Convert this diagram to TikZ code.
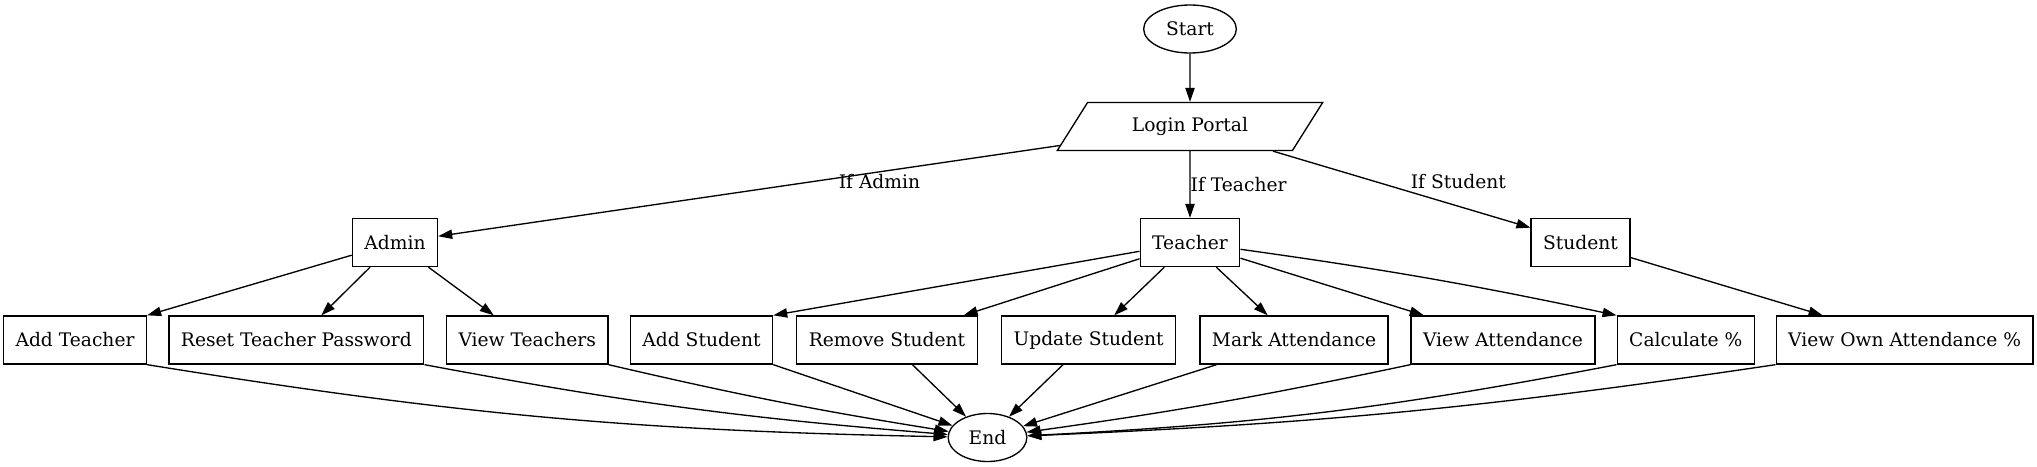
\documentclass[tikz,border=0pt]{standalone}
\usepackage{fontspec}
\setmainfont{DejaVu Serif}
\usepackage{tikz}
\usetikzlibrary{shapes.geometric,arrows.meta}

\begin{document}
\begin{tikzpicture}[x=0.75pt, y=0.75pt, font=\fontsize{14pt}{17pt}\selectfont,
        box/.style={draw, line width=1pt, rectangle, minimum width=54pt, minimum height=36pt, inner xsep=9pt},
        oval/.style={draw, line width=1pt, ellipse, minimum height=36pt, inner sep=0pt},
        io/.style={draw, line width=1pt, trapezium, trapezium left angle=42, trapezium right angle=138, trapezium stretches body, minimum width=199pt, minimum height=36pt},
        flow/.style={line width=1pt, -{Triangle[length=10.5pt, width=7pt]}},
        tag/.style={inner sep=0pt}]
        \useasboundingbox (0,0) rectangle (2037,-467);
        \node[oval, minimum width=69.5pt] (start) at (1190,-29) {Start};
        \node[io] (login) at (1190,-126.5) {Login Portal};
        \node[box] (admin) at (395,-242.5) {Admin};
        \node[box] (teacher) at (1190,-242.5) {Teacher};
        \node[box] (student) at (1580.5,-242.5) {Student};
        \node[box] (addT) at (75,-340) {Add Teacher};
        \node[box] (resetT) at (296.4,-340) {Reset Teacher Password};
        \node[box] (viewT) at (527.2,-340) {View Teachers};
        \node[box] (addS) at (701.5,-340) {Add Student};
        \node[box] (removeS) at (887,-340) {Remove Student};
        \node[box] (updateS) at (1088.6,-340) {Update Student};
        \node[box] (markA) at (1294,-340) {Mark Attendance};
        \node[box] (viewA) at (1503,-340) {View Attendance};
        \node[box] (calcP) at (1685.8,-340) {Calculate \%};
        \node[box] (viewOwn) at (1904.6,-340) {View Own Attendance \%};
        \node[oval, minimum width=59pt] (finish) at (987.5,-437.5) {End};

        \draw[flow] (start) -- (login);
        \draw[flow] (login) -- node[tag, pos=0.29, below=1pt] {If Admin} (admin);
        \draw[flow] (login) -- node[tag, pos=0.5, right] {If Teacher} (teacher);
        \draw[flow] (login) -- node[pos=0.72, above=9pt] {If Student} (student);
        \draw[flow] (admin) -- (addT.north east);
        \draw[flow] (admin) -- (resetT);
        \draw[flow] (admin) -- (viewT);
        \draw[flow] (teacher) -- (addS.north east);
        \draw[flow] (teacher) -- (removeS);
        \draw[flow] (teacher) -- (updateS);
        \draw[flow] (teacher) -- (markA);
        \draw[flow] (teacher) -- (viewA);
        \draw[flow] (teacher) to[bend left=2] (calcP.north west);
        \draw[flow] (student) -- (viewOwn);
        \draw[flow] (addT.south east) to[bend right=4] (finish);
        \draw[flow] (resetT.south east) to[bend right=3] (finish);
        \draw[flow] (viewT.south east) to[bend right=2] (finish);
        \draw[flow] (addS.south east) -- (finish);
        \draw[flow] (removeS) -- (finish);
        \draw[flow] (updateS) -- (finish);
        \draw[flow] (markA) -- (finish);
        \draw[flow] (viewA.south west) to[bend left=2] (finish);
        \draw[flow] (calcP.south west) to[bend left=4] (finish);
        \draw[flow] (viewOwn.south west) to[bend left=3] (finish);
    \end{tikzpicture}
\end{document}
